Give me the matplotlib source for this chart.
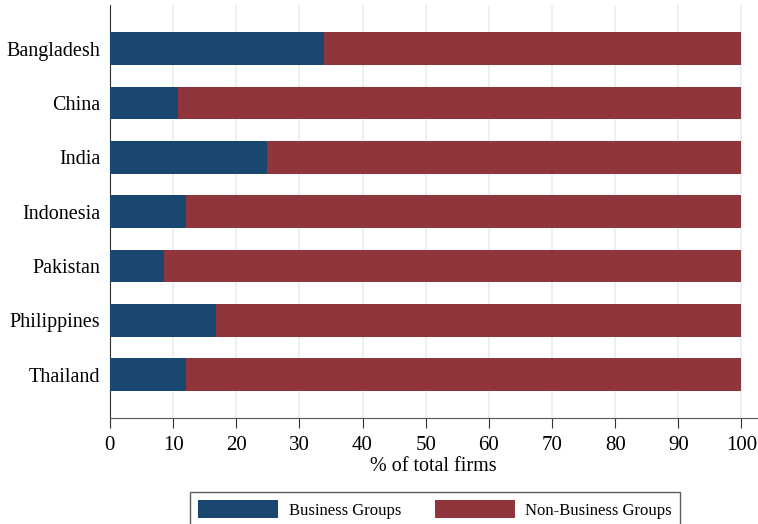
import numpy as np
import matplotlib.pyplot as plt
from matplotlib.patches import Patch

plt.rcParams['font.family'] = ['Liberation Serif', 'DejaVu Serif']

countries = ["Bangladesh", "China", "India", "Indonesia", "Pakistan", "Philippines", "Thailand"]
business = [33.9, 10.8, 24.9, 12.0, 8.6, 16.8, 12.0]
non_business = [100 - b for b in business]

blue = "#1a476f"
red = "#90353b"

fig = plt.figure(figsize=(7.58, 5.24), dpi=100)
ax = fig.add_axes([0.145, 0.202, 0.854, 0.788])

y = np.arange(len(countries))
ax.barh(y, business, height=0.6, color=blue, zorder=3)
ax.barh(y, non_business, left=business, height=0.6, color=red, zorder=3)

ax.set_yticks(y)
ax.set_yticklabels(countries, fontsize=14.5)
ax.set_ylim(len(countries) - 0.2, -0.8)
ax.set_xlim(0, 102.5)
ax.set_xticks(np.arange(0, 101, 10))
ax.tick_params(axis='x', labelsize=15, length=7, color="#333333", pad=6)
ax.tick_params(axis='y', length=0, pad=7)
ax.xaxis.grid(True, color="#e6eff2", linewidth=1.2, zorder=0)
ax.set_xlabel("% of total firms", fontsize=14.5, labelpad=1)

for s in ["top", "right"]:
    ax.spines[s].set_visible(False)
ax.spines["left"].set_color("#333333")
ax.spines["bottom"].set_color("#555555")

handles = [Patch(facecolor=blue), Patch(facecolor=red)]
leg = fig.legend(handles, ["Business Groups", "Non-Business Groups"],
                 loc="lower center", bbox_to_anchor=(0.574, -0.012), ncol=2,
                 fontsize=12, frameon=True, fancybox=False,
                 handlelength=4.8, handleheight=1.25, handletextpad=0.65,
                 columnspacing=2.0, borderpad=0.5, borderaxespad=0.2)
leg.get_frame().set_edgecolor("#333333")
leg.get_frame().set_linewidth(1.0)

fig.savefig("out.png", dpi=100)
